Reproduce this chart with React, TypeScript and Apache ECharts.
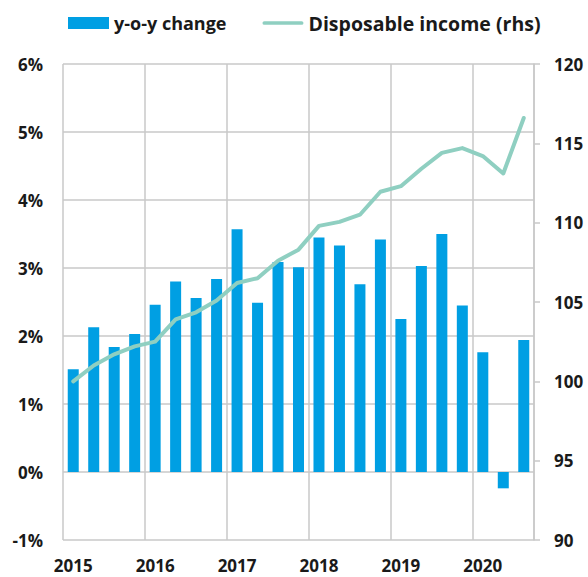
import React, { useEffect, useRef } from "react";
import * as echarts from "echarts";

const quarters = [
  "2015Q1", "2015Q2", "2015Q3", "2015Q4",
  "2016Q1", "2016Q2", "2016Q3", "2016Q4",
  "2017Q1", "2017Q2", "2017Q3", "2017Q4",
  "2018Q1", "2018Q2", "2018Q3", "2018Q4",
  "2019Q1", "2019Q2", "2019Q3", "2019Q4",
  "2020Q1", "2020Q2", "2020Q3",
];

const yoyChange = [
  1.51, 2.13, 1.84, 2.03,
  2.46, 2.8, 2.56, 2.84,
  3.57, 2.49, 3.09, 3.01,
  3.45, 3.33, 2.76, 3.42,
  2.25, 3.03, 3.5, 2.45,
  1.76, -0.24, 1.94,
];

const disposableIncome = [
  100.0, 101.0, 101.7, 102.2,
  102.5, 103.9, 104.35, 105.1,
  106.2, 106.5, 107.6, 108.3,
  109.8, 110.05, 110.5, 111.95,
  112.3, 113.4, 114.4, 114.7,
  114.2, 113.1, 116.6,
];

const leftTicks = { min: -1, max: 6, interval: 1 };
const rightTicks = { min: 90, max: 120, interval: 5 };

const FONT = "'Open Sans', 'DejaVu Sans', sans-serif";
const TEXT = "#1a1a1a";
const GRID = "#c8c8c8";
const BAR = "#009fe3";
const LINE = "#8fcfc1";

export default function App() {
  const ref = useRef<HTMLDivElement>(null);

  useEffect(() => {
    if (!ref.current) return;
    const chart = echarts.init(ref.current, undefined, { renderer: "svg" });
    const labelStyle = {
      color: TEXT,
      fontFamily: FONT,
      fontWeight: "bold" as const,
      fontSize: 17,
    };
    chart.setOption({
      animation: false,
      textStyle: { fontFamily: FONT },
      legend: {
        left: 63,
        top: 8,
        itemWidth: 41,
        itemHeight: 12,
        itemGap: 36,
        textStyle: {
          ...labelStyle,
          fontSize: 18,
          rich: {
            a: { color: TEXT, fontFamily: FONT, fontWeight: "bold", fontSize: 18 },
            b: { color: TEXT, fontFamily: FONT, fontWeight: "bold", fontSize: 19.5 },
          },
        },
        formatter: (name: string) =>
          name === "y-o-y change" ? `{a|${name}}` : `{b|${name}}`,
        data: [
          { name: "y-o-y change", icon: "rect" },
          {
            name: "Disposable income (rhs)",
            icon: "path://M2,0 L42,0 A2,2 0 0 1 42,4 L2,4 A2,2 0 0 1 2,0 Z",
            itemStyle: { color: LINE },
          },
        ],
      },
      grid: { left: 63, right: 54, top: 64, bottom: 37 },
      xAxis: {
        type: "category",
        data: quarters,
        boundaryGap: true,
        axisLine: { show: false },
        axisTick: { show: false, interval: 3 },
        axisLabel: {
          ...labelStyle,
          interval: 3,
          margin: 17,
          formatter: (v: string) => v.slice(0, 4),
        },
        splitLine: {
          show: true,
          interval: (i: number) => i % 4 === 0,
          lineStyle: { color: GRID, width: 1.5 },
        },
      },
      yAxis: [
        {
          type: "value",
          min: leftTicks.min,
          max: leftTicks.max,
          interval: leftTicks.interval,
          position: "left",
          axisLine: { show: false },
          axisTick: { show: false },
          axisLabel: {
            ...labelStyle,
            margin: 20,
            formatter: (v: number) => `${v}%`,
          },
          splitLine: { show: true, lineStyle: { color: GRID, width: 1.5 } },
        },
        {
          type: "value",
          min: rightTicks.min,
          max: rightTicks.max,
          interval: rightTicks.interval,
          position: "right",
          axisLine: { show: true, lineStyle: { color: GRID, width: 1.5 } },
          axisTick: {
            show: true,
            length: 6,
            lineStyle: { color: GRID, width: 1.5 },
          },
          axisLabel: { ...labelStyle, margin: 20 },
          splitLine: { show: false },
        },
      ],
      series: [
        {
          name: "y-o-y change",
          type: "bar",
          yAxisIndex: 0,
          data: yoyChange,
          barWidth: 11,
          itemStyle: { color: BAR },
          z: 2,
        },
        {
          name: "Disposable income (rhs)",
          type: "line",
          yAxisIndex: 1,
          data: disposableIncome,
          symbol: "none",
          showSymbol: false,
          lineStyle: { color: LINE, width: 4, join: "round", cap: "round" },
          itemStyle: { color: LINE },
          z: 3,
        },
      ],
    });
    return () => chart.dispose();
  }, []);

  return (
    <div
      ref={ref}
      style={{ position: "absolute", left: 0, top: 0, width: 588, height: 577 }}
    />
  );
}
